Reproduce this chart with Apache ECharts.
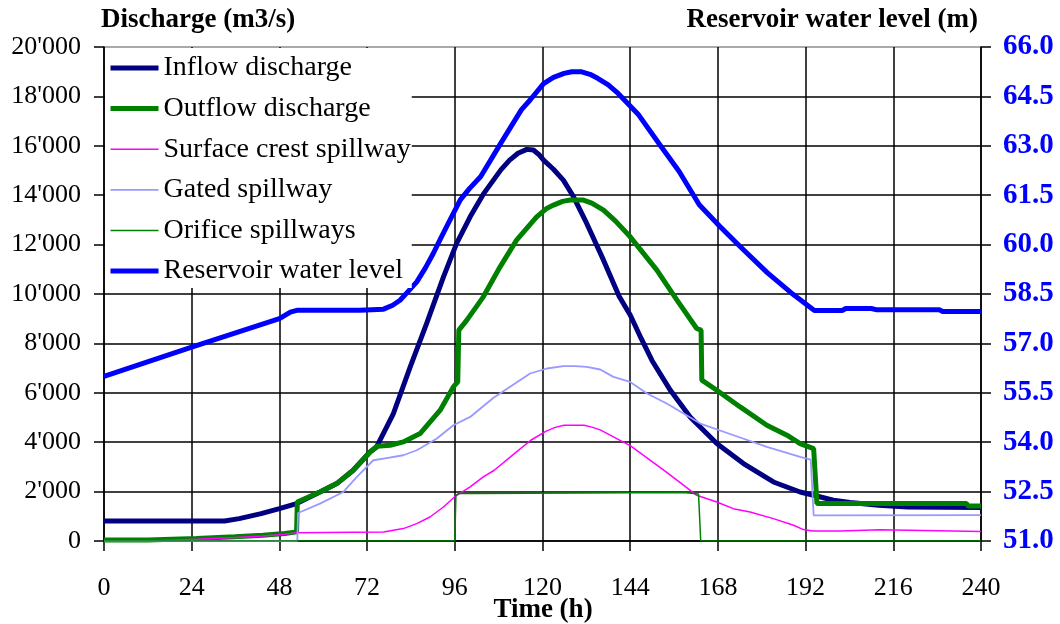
<!DOCTYPE html>
<html>
<head>
<meta charset="utf-8">
<script src="https://cdn.jsdelivr.net/npm/echarts@6/dist/echarts.min.js"></script>
<style>
html,body{margin:0;padding:0;background:#fff;}
#chart{width:1060px;height:624px;}
</style>
</head>
<body>
<div id="chart"></div>
<script>
// ---- Data (time in hours) ----
const xTicks = [0, 24, 48, 72, 96, 120, 144, 168, 192, 216, 240];

const inflowT = [0, 33, 37, 43, 48, 52.7, 52.9, 59.1, 63.7, 68.2, 72.8, 74.6, 79.2, 83.8, 88.3, 92.9, 96.5, 100.2, 104, 108.6, 111, 113.3, 115.7, 117.5, 119, 120.3, 123, 125.7, 128.5, 132.1, 136.7, 141, 144, 147, 150, 155, 160.4, 167.7, 175, 183.2, 190.5, 194.2, 199.6, 204.2, 212, 220, 240];
const inflowQ = [810, 810, 907, 1110, 1312, 1515, 1580, 1985, 2325, 2864, 3605, 3808, 5161, 7049, 8807, 10695, 12048, 13125, 14085, 15025, 15420, 15697, 15855, 15830, 15650, 15420, 15050, 14612, 13935, 12857, 11370, 9900, 9150, 8200, 7300, 6100, 5023, 3946, 3135, 2390, 1985, 1851, 1649, 1560, 1450, 1380, 1360];

const outflowT = [0, 12, 12.1, 25.3, 25.4, 35.8, 35.9, 43.5, 43.6, 49.5, 49.6, 52.7, 52.9, 59.1, 63.7, 68.2, 72.8, 74.7, 78.3, 81.9, 86.5, 92, 95.6, 96.8, 97.1, 99.3, 103.8, 108.4, 112.9, 118.4, 121, 123, 125.5, 127.6, 131.2, 133.5, 136.7, 140, 144, 151.3, 156.8, 162.2, 163.4, 163.6, 167.7, 174.1, 181.4, 186.9, 190.5, 194.2, 195.1, 236, 236.5, 240];
const outflowQ = [40, 40, 100, 100, 170, 170, 235, 235, 300, 300, 370, 370, 1580, 1985, 2325, 2864, 3605, 3836, 3877, 4011, 4351, 5295, 6238, 6441, 8535, 8941, 9885, 11100, 12181, 13125, 13450, 13600, 13750, 13802, 13802, 13680, 13397, 12950, 12315, 10966, 9751, 8604, 8535, 6510, 6105, 5428, 4687, 4282, 3946, 3743, 1515, 1515, 1418, 1418];

const surfaceT = [0, 12, 12.1, 25.3, 25.4, 35.8, 35.9, 43.5, 43.6, 49.5, 49.6, 52.7, 52.9, 76.5, 81.9, 85.6, 89.2, 92.9, 95.9, 100.2, 103.8, 106.8, 112.3, 116.8, 121, 123.5, 125.9, 131.4, 133.5, 135.8, 144.2, 154, 159.2, 162.2, 167.7, 172.2, 176.8, 183.2, 188.7, 191.4, 194, 201.5, 202, 212.4, 212.6, 240];
const surfaceQ = [0, 0, 70, 70, 137, 137, 204, 204, 271, 271, 339, 339, 365, 365, 502, 705, 972, 1377, 1782, 2188, 2593, 2864, 3536, 4079, 4450, 4600, 4687, 4687, 4610, 4500, 3840, 2780, 2188, 1850, 1580, 1309, 1175, 907, 636, 462, 405, 405, 455, 455, 381, 381];

const gatedT = [0, 52.9, 53.1, 59.1, 65.5, 69.2, 73.7, 76.5, 81.9, 85.6, 91.1, 95.6, 100.2, 106.6, 116.6, 121.2, 125.7, 129, 132.1, 135.8, 139.4, 144, 148.6, 154, 163.2, 172.3, 181.4, 190.5, 193.4, 194.2, 240];
const gatedQ = [0, 0, 1134, 1515, 1985, 2593, 3269, 3338, 3472, 3674, 4148, 4687, 5023, 5800, 6781, 6984, 7077, 7077, 7049, 6943, 6644, 6441, 5971, 5566, 4756, 4282, 3808, 3403, 3297, 1041, 1050];

const orificeT = [0, 96, 96.3, 97, 102, 102.1, 158.6, 158.7, 162.7, 163.3, 240];
const orificeQ = [0, 0, 1851, 1920, 1920, 1960, 1960, 1904, 1904, 0, 0];

const levelT = [0, 24, 48, 51, 53, 70, 76.5, 79, 81, 83, 85.6, 88, 90.1, 92, 94.7, 97.5, 100, 103.1, 108.6, 114.2, 116.6, 120.3, 123, 125.9, 128, 130.5, 133, 135.1, 138, 140.7, 146.3, 152.7, 157.4, 162.9, 168.5, 174, 181.5, 188, 194.4, 202, 203, 210, 211.5, 228.6, 229.5, 240];
const levelM = [56.0, 56.89, 57.75, 57.95, 58.01, 58.01, 58.04, 58.16, 58.31, 58.55, 58.87, 59.3, 59.73, 60.16, 60.75, 61.36, 61.7, 62.07, 63.08, 64.09, 64.39, 64.89, 65.08, 65.2, 65.25, 65.25, 65.17, 65.05, 64.85, 64.59, 63.94, 62.94, 62.22, 61.21, 60.56, 59.95, 59.15, 58.54, 58.0, 58.0, 58.06, 58.06, 58.02, 58.02, 57.97, 57.97];

const leftTicks = [0, 2000, 4000, 6000, 8000, 10000, 12000, 14000, 16000, 18000, 20000];
const rightTicks = [51.0, 52.5, 54.0, 55.5, 57.0, 58.5, 60.0, 61.5, 63.0, 64.5, 66.0];

const names = ['Inflow discharge', 'Outflow discharge', 'Surface crest spillway', 'Gated spillway', 'Orifice spillways', 'Reservoir water level'];
const colors = ['#000080', '#008000', '#FF00FF', '#9999FF', '#008000', '#0000FF'];
const widths = [5, 5, 1.5, 1.8, 1.5, 5];

// ---- Chart ----
const pair = (ts, vs) => ts.map((t, i) => [t, vs[i]]);
const serif = '"Liberation Serif", "Times New Roman", serif';

const chart = echarts.init(document.getElementById('chart'), null, {renderer: 'canvas'});

function fmtThousands(v) {
  if (v === 0) return '0';
  const th = Math.floor(v / 1000);
  const rest = String(v % 1000).padStart(3, '0');
  return th + "'" + rest;
}

// split line colours: black, top border grey
const hSplitColors = leftTicks.map((v, i) => i === leftTicks.length - 1 ? '#8c8c8c' : '#000000');

const lineCommon = {type: 'line', symbol: 'none', showSymbol: false, smooth: false};

const seriesData = [
  pair(inflowT, inflowQ), pair(outflowT, outflowQ), pair(surfaceT, surfaceQ),
  pair(gatedT, gatedQ), pair(orificeT, orificeQ), pair(levelT, levelM)
];
const zs = [3, 4, 5, 5, 6, 7];

const option = {
  animation: false,
  backgroundColor: '#ffffff',
  title: {
    text: 'Time (h)',
    left: 543,
    top: 597,
    textAlign: 'center',
    padding: 0,
    textStyle: {fontFamily: serif, fontSize: 27, fontWeight: 'bold', color: '#000'}
  },
  grid: {left: 104, right: 79, top: 47, bottom: 83, containLabel: false, outerBoundsMode: 'none'},
  legend: {
    orient: 'vertical',
    left: 105,
    top: 48,
    padding: [6, 1, 3, 3],
    backgroundColor: '#ffffff',
    itemWidth: 48,
    itemHeight: 14,
    itemGap: 12.6,
    data: names.map((n, i) => ({name: n, lineStyle: {width: widths[i], color: colors[i]}})),
    itemStyle: {color: 'rgba(0,0,0,0)', borderColor: 'rgba(0,0,0,0)', borderWidth: 0, opacity: 0},
    textStyle: {fontFamily: serif, fontSize: 28, color: '#000'},
    z: 10
  },
  xAxis: {
    type: 'value',
    min: xTicks[0],
    max: xTicks[xTicks.length - 1],
    interval: 24,
    axisLine: {show: true, lineStyle: {color: '#000', width: 1.5}},
    axisTick: {show: true, inside: false, length: 10, lineStyle: {color: '#000', width: 1.5}},
    axisLabel: {fontFamily: serif, fontSize: 26, color: '#000', margin: 34},
    splitLine: {show: true, lineStyle: {color: '#000', width: 1.5}}
  },
  yAxis: [
    {
      type: 'value',
      min: 0,
      max: 20000,
      interval: 2000,
      position: 'left',
      name: 'Discharge (m3/s)',
      nameLocation: 'end',
      nameGap: 27,
      nameTextStyle: {fontFamily: serif, fontSize: 27, fontWeight: 'bold', color: '#000', align: 'left', verticalAlign: 'middle', padding: [0, 0, 0, -3]},
      axisLine: {show: true, lineStyle: {color: '#000', width: 1.5}},
      axisTick: {show: true, inside: false, length: 10, lineStyle: {color: '#000', width: 1.5}},
      axisLabel: {fontFamily: serif, fontSize: 26, color: '#000', margin: 23, formatter: fmtThousands},
      splitLine: {show: true, lineStyle: {color: hSplitColors, width: 1.5}}
    },
    {
      type: 'value',
      min: 51,
      max: 66,
      interval: 1.5,
      position: 'right',
      name: 'Reservoir water level (m)',
      nameLocation: 'end',
      nameGap: 27,
      nameTextStyle: {fontFamily: serif, fontSize: 27, fontWeight: 'bold', color: '#000', align: 'right', verticalAlign: 'middle', padding: [0, 3, 0, 0]},
      axisLine: {show: true, lineStyle: {color: '#000', width: 1.5}},
      axisTick: {show: true, inside: false, length: 10, lineStyle: {color: '#000', width: 1.5}},
      axisLabel: {fontFamily: serif, fontSize: 29, fontWeight: 'bold', color: '#0000FF', margin: 22, formatter: v => v.toFixed(1)},
      splitLine: {show: false}
    }
  ],
  series: names.map((n, i) => Object.assign({}, lineCommon, {
    name: n,
    yAxisIndex: i === 5 ? 1 : 0,
    data: seriesData[i],
    lineStyle: {color: colors[i], width: widths[i]},
    itemStyle: {color: colors[i]},
    z: zs[i]
  }))
};
chart.setOption(option);
</script>
</body>
</html>
